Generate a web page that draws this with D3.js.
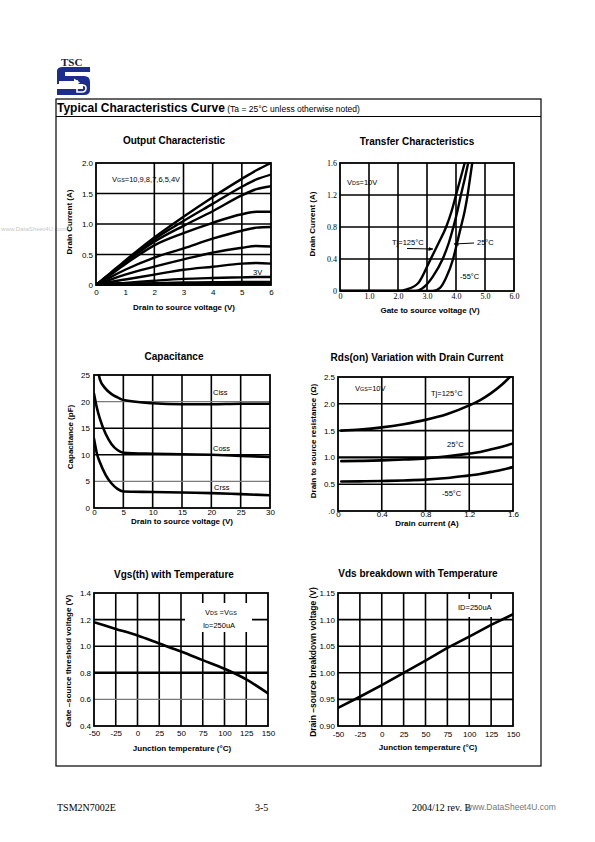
<!DOCTYPE html>
<html><head><meta charset="utf-8">
<script src="https://cdn.jsdelivr.net/npm/d3@7"></script>
<style>body{margin:0;background:#fff}svg{display:block}</style>
</head><body>
<script>
// ---------- DATA ----------
// Output characteristic (VDS in V, ID in A per VGS)
const outVds   = [0, 0.5, 1, 2, 3, 4, 5, 5.5, 6];
const outId10V = [0, 0.2, 0.4, 0.78, 1.12, 1.44, 1.74, 1.88, 2.0];
const outId9V  = [0, 0.19, 0.38, 0.75, 1.05, 1.33, 1.61, 1.73, 1.81];
const outId8V  = [0, 0.18, 0.37, 0.71, 0.97, 1.21, 1.47, 1.57, 1.62];
const outId7V  = [0, 0.17, 0.34, 0.65, 0.85, 1.02, 1.16, 1.2, 1.2];
const outId6V  = [0, 0.13, 0.25, 0.45, 0.6, 0.76, 0.89, 0.94, 0.95];
const outId5V  = [0, 0.09, 0.17, 0.3, 0.42, 0.53, 0.61, 0.64, 0.63];
const outId4V  = [0, 0.05, 0.09, 0.17, 0.25, 0.3, 0.35, 0.36, 0.35];
const outId3V  = [0, 0.02, 0.035, 0.07, 0.1, 0.115, 0.125, 0.13, 0.13];
const outId2V  = [0, 0.01, 0.015, 0.03, 0.04, 0.045, 0.05, 0.05, 0.05];
const outId1V  = [0, 0, 0.005, 0.01, 0.012, 0.015, 0.018, 0.02, 0.02];
const outXTicks = [0,1,2,3,4,5,6];
const outXLabels = ["0","1","2","3","4","5","6"];
const outYTicks = [0,0.5,1,1.5,2];
const outYLabels = ["0","0.5","1.0","1.5","2.0"];

// Transfer characteristics (VGS in V, ID in A)
const tr125Vgs = [0, 2.0, 2.3, 2.7, 3.1, 3.4, 3.66, 3.85, 4.0, 4.15, 4.3];
const tr125Id  = [0, 0, 0.02, 0.1, 0.38, 0.6, 0.8, 1.0, 1.2, 1.4, 1.6];
const tr25Vgs  = [0, 2.6, 2.9, 3.2, 3.54, 3.75, 3.91, 4.05, 4.17, 4.3, 4.42];
const tr25Id   = [0, 0, 0.05, 0.18, 0.4, 0.6, 0.8, 1.0, 1.2, 1.4, 1.6];
const trM55Vgs = [0, 3.2, 3.45, 3.65, 3.9, 4.05, 4.17, 4.3, 4.4, 4.48, 4.56];
const trM55Id  = [0, 0, 0.04, 0.16, 0.4, 0.62, 0.8, 1.0, 1.2, 1.4, 1.6];
const trXTicks = [0,1,2,3,4,5,6];
const trXLabels = ["0","1.0","2.0","3.0","4.0","5.0","6.0"];
const trYTicks = [0,0.4,0.8,1.2,1.6];
const trYLabels = ["0","0.4","0.8","1.2","1.6"];

// Capacitance (VDS in V, C in pF)
const capVds  = [0, 0.5, 1, 2, 3, 4, 5, 10, 15, 20, 25, 30];
const capCiss = [30, 27, 24.2, 22.4, 21.4, 20.8, 20.3, 19.7, 19.5, 19.5, 19.6, 19.6];
const capCoss = [21.5, 18.8, 16.8, 13.9, 12.0, 10.9, 10.4, 10.2, 10.1, 10.0, 9.8, 9.6];
const capCrss = [13.0, 10.2, 8.6, 6.2, 4.6, 3.6, 3.1, 3.0, 2.9, 2.8, 2.6, 2.4];
const capXTicks = [0,5,10,15,20,25,30];
const capXLabels = ["0","5","10","15","20","25","30"];
const capYTicks = [0,5,10,15,20,25];
const capYLabels = ["0","5","10","15","20","25"];

// Rds(on) vs drain current (ID in A, R in ohm)
const rdsId   = [0.03, 0.2, 0.4, 0.6, 0.8, 1.0, 1.2, 1.3, 1.4, 1.5, 1.6];
const rds125  = [1.5, 1.52, 1.56, 1.62, 1.7, 1.81, 1.97, 2.07, 2.2, 2.36, 2.56];
const rds25   = [0.93, 0.935, 0.945, 0.96, 0.98, 1.02, 1.07, 1.1, 1.15, 1.2, 1.26];
const rdsM55  = [0.55, 0.553, 0.56, 0.57, 0.585, 0.615, 0.665, 0.69, 0.73, 0.77, 0.82];
const rdsXTicks = [0,0.4,0.8,1.2,1.6];
const rdsXLabels = ["0","0.4","0.8","1.2","1.6"];
const rdsYTicks = [0,0.5,1,1.5,2,2.5];
const rdsYLabels = [".0","0.5","1.0","1.5","2.0","2.5"];

// Vgs(th) vs temperature
const vthTemp = [-50, -25, 0, 25, 50, 75, 100, 125, 150];
const vthVal  = [1.18, 1.13, 1.08, 1.02, 0.96, 0.895, 0.83, 0.75, 0.645];
const tempTicks = [-50,-25,0,25,50,75,100,125,150];
const tempLabels = ["-50","-25","0","25","50","75","100","125","150"];
const vthYTicks = [0.4,0.6,0.8,1.0,1.2,1.4];
const vthYLabels = ["0.4","0.6","0.8","1.0","1.2","1.4"];

// Vds breakdown vs temperature (normalized)
const bvTemp = [-50, -25, 0, 25, 50, 75, 100, 125, 150];
const bvVal  = [0.934, 0.955, 0.977, 1.0, 1.023, 1.047, 1.068, 1.09, 1.11];
const bvYTicks = [0.9,0.95,1.0,1.05,1.1,1.15];
const bvYLabels = ["0.90","0.95","1.00","1.05","1.10","1.15"];

// ---------- DRAWING ----------
const SANS = "'Liberation Sans', Arial, sans-serif";
const SERIF = "'Liberation Serif', 'Times New Roman', serif";
const svg = d3.select("body").append("svg").attr("width",595).attr("height",842);

const defs = svg.append("defs");
defs.append("marker").attr("id","arr").attr("viewBox","0 0 10 10").attr("refX",9).attr("refY",5)
  .attr("markerWidth",5).attr("markerHeight",5).attr("orient","auto-start-reverse")
  .append("path").attr("d","M0,1 L10,5 L0,9 Z").attr("fill","#000");

// watermark left
svg.append("text").attr("x",1).attr("y",231).attr("font-family",SANS).attr("font-size",6.2)
  .attr("fill","#c8c8c8").text("www.DataSheet4U.com");

// logo
const navy = "#1c2d8e";
svg.append("text").attr("x",61).attr("y",66).attr("font-family",SERIF).attr("font-weight","bold")
  .attr("font-size",11).attr("fill","#1a1a40").text("TSC");
const logo = svg.append("g").attr("fill",navy);
logo.append("path").attr("d","M63,67 H90 V72 H65 V76 H57 V71 Q57,67 63,67 Z");
logo.append("path").attr("d","M57,76 H84 Q90,76 90,82 V90 Q90,95 84,95 H57 V89 H83 V84 H57 Z");
svg.append("path").attr("d","M59,81 L74,81 L74,78.5 L80,82.5 L74,86.5 L74,84 L59,84 Z").attr("fill","#fff");
svg.append("path").attr("d","M77,80 V92 H82 Q86,92 86,88 Q86,85 82,85 H79").attr("fill","none")
  .attr("stroke","#fff").attr("stroke-width",1.6);

// outer box
svg.append("rect").attr("x",56).attr("y",99).attr("width",485).attr("height",667)
  .attr("fill","none").attr("stroke","#000").attr("stroke-width",1.2);
svg.append("line").attr("x1",56).attr("x2",541).attr("y1",116.5).attr("y2",116.5)
  .attr("stroke","#000").attr("stroke-width",1.2);
const hdr = svg.append("text").attr("x",57).attr("y",112).attr("font-family",SANS);
hdr.append("tspan").attr("font-weight","bold").attr("font-size",12).text("Typical Characteristics Curve");
hdr.append("tspan").attr("font-size",8.5).text(" (Ta = 25°C unless otherwise noted)");

// footer
svg.append("text").attr("x",57).attr("y",811).attr("font-family",SERIF).attr("font-size",10).text("TSM2N7002E");
svg.append("text").attr("x",255).attr("y",811).attr("font-family",SERIF).attr("font-size",10).text("3-5");
svg.append("text").attr("x",412).attr("y",811).attr("font-family",SERIF).attr("font-size",10).text("2004/12 rev. B");
svg.append("text").attr("x",466).attr("y",810).attr("font-family",SANS).attr("font-size",8.5)
  .attr("fill","#777").text("www.DataSheet4U.com");

let clipN = 0;
function drawChart(o){
  const x = d3.scaleLinear().domain(o.xDomain).range([o.left,o.right]);
  const y = d3.scaleLinear().domain(o.yDomain).range([o.bottom,o.top]);
  const g = svg.append("g");
  const light = o.lightY || [];
  g.selectAll(null).data(o.xGrid).join("line")
    .attr("x1",d=>x(d)).attr("x2",d=>x(d)).attr("y1",o.top).attr("y2",o.bottom)
    .attr("stroke","#000").attr("stroke-width",1.6);
  g.selectAll(null).data(o.yGrid).join("line")
    .attr("y1",d=>y(d)).attr("y2",d=>y(d)).attr("x1",o.left).attr("x2",o.right)
    .attr("stroke",d=>light.includes(d)?"#7a7a7a":"#000")
    .attr("stroke-width",d=>light.includes(d)?1.1:((o.thickY||[]).includes(d)?2.4:1.6));
  g.append("rect").attr("x",o.left).attr("y",o.top).attr("width",o.right-o.left).attr("height",o.bottom-o.top)
    .attr("fill","none").attr("stroke","#000").attr("stroke-width",1.8);
  const xa = g.append("g").attr("transform",`translate(0,${o.bottom})`)
    .call(d3.axisBottom(x).tickValues(o.xTicks).tickSize(0).tickPadding(o.xPad).tickFormat((d,i)=>o.xLabels[i]));
  xa.select(".domain").remove();
  xa.attr("font-family",o.tickFont||SANS).attr("font-size",8);
  const ya = g.append("g").attr("transform",`translate(${o.left},0)`)
    .call(d3.axisLeft(y).tickValues(o.yTicks).tickSize(0).tickPadding(o.yPad||3).tickFormat((d,i)=>o.yLabels[i]));
  ya.select(".domain").remove();
  ya.attr("font-family",o.tickFont||SANS).attr("font-size",8);
  svg.append("text").attr("x",o.titleX).attr("y",o.titleY).attr("text-anchor","middle")
    .attr("font-family",SANS).attr("font-weight","bold").attr("font-size",10).text(o.title);
  svg.append("text").attr("x",o.xTitleX).attr("y",o.xTitleY).attr("text-anchor","middle")
    .attr("font-family",SANS).attr("font-weight","bold").attr("font-size",8).text(o.xTitle);
  svg.append("text").attr("transform",`translate(${o.yTitleX},${o.yTitleY}) rotate(-90)`).attr("text-anchor","middle")
    .attr("font-family",SANS).attr("font-weight","bold").attr("font-size",o.yTitleSize||8).text(o.yTitle);
  const id = "clip"+(clipN++);
  defs.append("clipPath").attr("id",id).append("rect").attr("x",o.left).attr("y",o.top-1)
    .attr("width",o.right-o.left).attr("height",o.bottom-o.top+2);
  const cg = svg.append("g").attr("clip-path",`url(#${id})`);
  return {x,y,g,cg};
}
function drawCurves(c, xs, series, curve, w){
  const line = d3.line().x(d=>c.x(d[0])).y(d=>c.y(d[1])).curve(curve||d3.curveMonotoneX);
  series.forEach(s=>{
    const xv = s.x || xs;
    const pts = xv.map((v,i)=>[v,s.y[i]]);
    c.cg.append("path").attr("d",line(pts)).attr("fill","none").attr("stroke","#000")
      .attr("stroke-width",w||2.4).attr("stroke-linejoin","round").attr("stroke-linecap","round");
  });
}
function label(x,y,parts,size,anchor){
  const t = svg.append("text").attr("x",x).attr("y",y).attr("font-family",SANS).attr("font-size",size||7.5)
    .attr("text-anchor",anchor||"start");
  parts.forEach(p=>{
    const ts = t.append("tspan").text(p[0]);
    if(p[1]) ts.attr("font-size",(size||7.5)*0.72);
  });
  return t;
}

// 1. Output characteristic
const c1 = drawChart({left:96,right:271,top:163,bottom:285,xDomain:[0,6],yDomain:[0,2],
  xGrid:[2,3,4,5],yGrid:[0.5,1,1.5],xTicks:outXTicks,xLabels:outXLabels,yTicks:outYTicks,yLabels:outYLabels,
  xPad:4,yPad:3,title:"Output Characteristic",titleX:174,titleY:144,
  xTitle:"Drain to source voltage (V)",xTitleX:184,xTitleY:310,yTitle:"Drain Current (A)",yTitleX:72,yTitleY:222});
drawCurves(c1, outVds, [outId10V,outId9V,outId8V,outId7V,outId6V,outId5V,outId4V,outId3V,outId2V,outId1V].map(v=>({y:v})));
c1.cg.append("line").attr("x1",c1.x(0)).attr("x2",c1.x(6)).attr("y1",c1.y(0)-1).attr("y2",c1.y(0)-1)
  .attr("stroke","#000").attr("stroke-width",3);
label(112,182,[["V"],["GS",1],["=10,9,8,7,6,5,4V"]]);
label(253,275,[["3V"]]);

// 2. Transfer characteristics
const c2 = drawChart({left:340,right:514,top:163,bottom:291,xDomain:[0,6],yDomain:[0,1.6],
  xGrid:[1,2,3,4,5],yGrid:[0.4,0.8,1.2],xTicks:trXTicks,xLabels:trXLabels,yTicks:trYTicks,yLabels:trYLabels,
  xPad:2.5,yPad:3,tickFont:SERIF,title:"Transfer Characteristics",titleX:417,titleY:145,
  xTitle:"Gate to source voltage (V)",xTitleX:430,xTitleY:313,yTitle:"Drain Current (A)",yTitleX:315,yTitleY:224});
drawCurves(c2, null, [{x:tr125Vgs,y:tr125Id},{x:tr25Vgs,y:tr25Id},{x:trM55Vgs,y:trM55Id}]);
label(347,185,[["V"],["DS",1],["=10V"]]);
label(392,245,[["Tj=125°C"]]);
svg.append("line").attr("x1",407).attr("y1",248.5).attr("x2",433).attr("y2",249).attr("stroke","#000")
  .attr("stroke-width",1).attr("marker-end","url(#arr)");
label(477,245,[["25°C"]]);
svg.append("line").attr("x1",474).attr("y1",243).attr("x2",454).attr("y2",244).attr("stroke","#000")
  .attr("stroke-width",1).attr("marker-end","url(#arr)");
label(460,279,[["-55°C"]]);

// 3. Capacitance
const c3 = drawChart({left:94,right:270,top:375,bottom:508,xDomain:[0,30],yDomain:[0,25],
  xGrid:[5,10,15,20,25],yGrid:[5,10,15,20],lightY:[5,20],xTicks:capXTicks,xLabels:capXLabels,yTicks:capYTicks,yLabels:capYLabels,
  xPad:1,yPad:4,title:"Capacitance",titleX:174,titleY:360,
  xTitle:"Drain to source voltage (V)",xTitleX:182,xTitleY:524,yTitle:"Capacitance (pF)",yTitleX:73,yTitleY:437});
drawCurves(c3, capVds, [capCiss,capCoss,capCrss].map(v=>({y:v})), d3.curveMonotoneX, 2.6);
label(213,395,[["Ciss"]]);
label(213,451,[["Coss"]]);
label(214,490,[["Crss"]]);

// 4. Rds(on)
const c4 = drawChart({left:338,right:513,top:377,bottom:511,xDomain:[0,1.6],yDomain:[0,2.5],
  xGrid:[0.4,0.8,1.2],yGrid:[0.5,1,1.5,2],thickY:[1],xTicks:rdsXTicks,xLabels:rdsXLabels,yTicks:rdsYTicks,yLabels:rdsYLabels,
  xPad:0,yPad:3,title:"Rds(on) Variation with Drain Current",titleX:417,titleY:361,
  xTitle:"Drain current (A)",xTitleX:427,xTitleY:526,yTitle:"Drain to source resistance (Ω)",yTitleX:316,yTitleY:441});
drawCurves(c4, rdsId, [rds125,rds25,rdsM55].map(v=>({y:v})), d3.curveMonotoneX, 2.6);
label(355,391,[["V"],["GS",1],["=10V"]]);
label(431,396,[["Tj=125°C"]]);
label(447,447,[["25°C"]]);
label(442,496,[["-55°C"]]);

// 5. Vgs(th)
const c5 = drawChart({left:94,right:268,top:593,bottom:726,xDomain:[-50,150],yDomain:[0.4,1.4],
  xGrid:[-25,0,25,50,75,100,125],yGrid:[0.6,0.8,1.0,1.2],lightY:[0.6],thickY:[0.8],xTicks:tempTicks,xLabels:tempLabels,
  yTicks:vthYTicks,yLabels:vthYLabels,xPad:4.5,yPad:3,title:"Vgs(th) with Temperature",titleX:174,titleY:578,
  xTitle:"Junction temperature (°C)",xTitleX:182,xTitleY:751,yTitle:"Gate –source threshold voltage (V)",yTitleX:71,yTitleY:661});
svg.append("rect").attr("x",185).attr("y",603).attr("width",67).attr("height",29).attr("fill","#fff");
drawCurves(c5, vthTemp, [{y:vthVal}], d3.curveMonotoneX, 2.6);
label(205,615,[["V"],["DS",1],[" =V"],["GS",1]]);
label(203,628,[["I"],["D",1],["=250uA"]]);

// 6. Vds breakdown
const c6 = drawChart({left:338,right:513,top:593,bottom:726,xDomain:[-50,150],yDomain:[0.9,1.15],
  xGrid:[-25,0,25,50,75,100,125],yGrid:[0.95,1.0,1.05,1.1],xTicks:tempTicks,xLabels:tempLabels,
  yTicks:bvYTicks,yLabels:bvYLabels,xPad:5.5,yPad:3,title:"Vds breakdown with Temperature",titleX:418,titleY:577,
  xTitle:"Junction temperature (°C)",xTitleX:428,xTitleY:750,yTitle:"Drain –source breakdown voltage (V)",yTitleX:316,yTitleY:662,yTitleSize:8.5});
svg.append("rect").attr("x",456).attr("y",599).attr("width",44).attr("height",18).attr("fill","#fff");
drawCurves(c6, bvTemp, [{y:bvVal}], d3.curveLinear, 2.6);
label(458,610,[["ID=250uA"]]);
</script>
</body></html>
